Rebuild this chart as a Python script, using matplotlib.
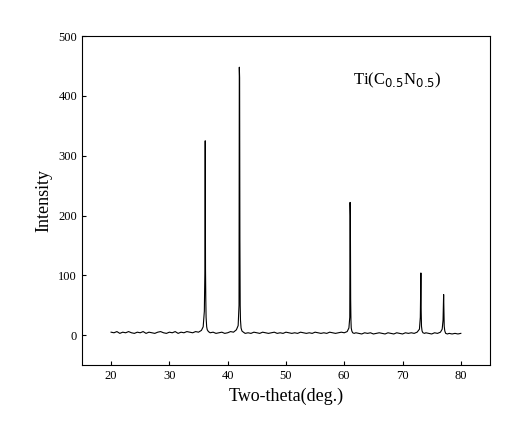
import matplotlib
matplotlib.use("Agg")
import matplotlib.pyplot as plt

# (two-theta, intensity) readings from the pattern
points = [
    (20.0, 5), (20.5, 4), (21.0, 6), (21.5, 3), (22.0, 5), (22.5, 4), (23.0, 6), (23.5, 4), (24.0, 3), (24.5, 5),
    (25.0, 4), (25.5, 6), (26.0, 3), (26.5, 5), (27.0, 4), (27.5, 3), (28.0, 5), (28.5, 6), (29.0, 4), (29.5, 3),
    (30.0, 5), (30.5, 4), (31.0, 6), (31.5, 3), (32.0, 5), (32.5, 4), (33.0, 6), (33.5, 5), (34.0, 4), (34.5, 6),
    (35.0, 5), (35.5, 8), (35.8, 14), (36.0, 40), (36.1, 110), (36.15, 325), (36.2, 110), (36.25, 60), (36.3, 30),
    (36.4, 14), (36.5, 9), (36.7, 6), (37.0, 4), (37.5, 5), (38.0, 3), (38.5, 4), (39.0, 5), (39.5, 3), (40.0, 4),
    (40.5, 6), (41.0, 5), (41.5, 9), (41.8, 16), (41.95, 50), (42.0, 448), (42.05, 430), (42.1, 160), (42.15, 50),
    (42.2, 25), (42.3, 12), (42.45, 7), (42.7, 5), (43.0, 3), (43.5, 4), (44.0, 3), (44.5, 5), (45.0, 4), (45.5, 3),
    (46.0, 5), (46.5, 4), (47.0, 3), (47.5, 4), (48.0, 5), (48.5, 3), (49.0, 4), (49.5, 3), (50.0, 5), (50.5, 4),
    (51.0, 3), (51.5, 4), (52.0, 3), (52.5, 5), (53.0, 4), (53.5, 3), (54.0, 4), (54.5, 3), (55.0, 5), (55.5, 4),
    (56.0, 3), (56.5, 4), (57.0, 3), (57.5, 5), (58.0, 4), (58.5, 3), (59.0, 4), (59.5, 5), (60.0, 4), (60.5, 6),
    (60.8, 12), (60.95, 30), (61.0, 222), (61.05, 200), (61.1, 60), (61.15, 25), (61.2, 12), (61.3, 7), (61.45, 4),
    (61.7, 3), (62.0, 4), (62.5, 3), (63.0, 2), (63.5, 4), (64.0, 3), (64.5, 4), (65.0, 2), (65.5, 3), (66.0, 4),
    (66.5, 3), (67.0, 2), (67.5, 4), (68.0, 3), (68.5, 2), (69.0, 4), (69.5, 3), (70.0, 2), (70.5, 4), (71.0, 3),
    (71.5, 4), (72.0, 3), (72.5, 5), (72.9, 10), (73.05, 30), (73.15, 104), (73.2, 40), (73.25, 15), (73.35, 7),
    (73.5, 4), (73.8, 3), (74.0, 4), (74.5, 3), (75.0, 2), (75.5, 4), (76.0, 3), (76.5, 5), (76.8, 10), (76.95, 25),
    (77.05, 68), (77.1, 40), (77.15, 15), (77.25, 7), (77.4, 3), (77.7, 2), (78.0, 3), (78.5, 2), (79.0, 3),
    (79.5, 2), (80.0, 3),
]
two_theta = [p[0] for p in points]
intensity = [p[1] for p in points]

fig = plt.figure(figsize=(5.32, 4.25), dpi=100)
ax = fig.add_axes([0.154, 0.141, 0.767, 0.774])
ax.plot(two_theta, intensity, color="black", lw=0.8)
ax.set_xlim(15, 85)
ax.set_ylim(-50, 500)
ax.set_xticks(range(20, 81, 10))
ax.set_yticks(range(0, 501, 100))
ax.tick_params(direction="in", labelsize=9, length=3)
for lab in ax.get_xticklabels() + ax.get_yticklabels():
    lab.set_fontfamily("Liberation Serif")
ax.set_xlabel("Two-theta(deg.)", fontfamily="Liberation Serif", fontsize=13)
ax.set_ylabel("Intensity", fontfamily="Liberation Serif", fontsize=13)
ax.text(61.5, 420, r"Ti(C$_{0.5}$N$_{0.5}$)", fontfamily="Liberation Serif", fontsize=12)
fig.savefig("out.png", dpi=100)
